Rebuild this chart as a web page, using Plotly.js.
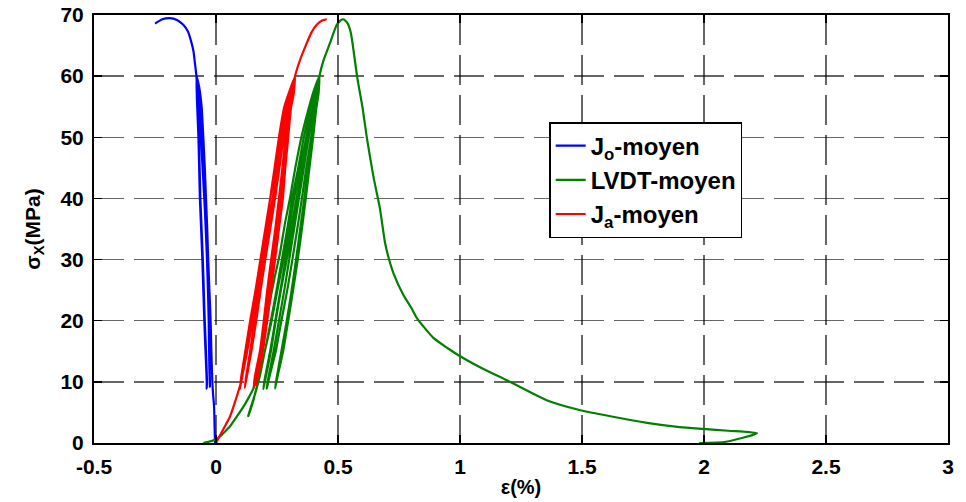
<!DOCTYPE html>
<html>
<head>
<meta charset="utf-8">
<script src="https://cdn.plot.ly/plotly-3.0.1.min.js"></script>
<style>
  html, body { margin: 0; padding: 0; background: #fff; }
  #chart { width: 966px; height: 502px; }
</style>
</head>
<body>
<div id="chart"></div>
<script>
// ---- data (strain in %, stress in MPa) ----
const xTickVals = [-0.5, 0, 0.5, 1, 1.5, 2, 2.5, 3];
const xTickText = ["-0.5", "0", "0.5", "1", "1.5", "2", "2.5", "3"];
const yTickVals = [0, 10, 20, 30, 40, 50, 60, 70];
const seriesNames = ["J<sub>o</sub>-moyen", "LVDT-moyen", "J<sub>a</sub>-moyen"];

// J_o-moyen (blue): loading, two unload/reload cycles, final loading to peak
const joX = [-0.004, -0.006, -0.008, -0.012, -0.015, -0.019, -0.022, -0.027, -0.032, -0.036, -0.041, -0.046, -0.052, -0.059, -0.068, -0.080,
  -0.077, -0.072, -0.069, -0.066, -0.061, -0.056, -0.052, -0.048, -0.043, -0.038, -0.038,
  -0.037, -0.041, -0.046, -0.050, -0.054, -0.059, -0.064, -0.067, -0.070, -0.075, -0.080,
  -0.072, -0.062, -0.055, -0.048, -0.042, -0.037, -0.033, -0.030, -0.027, -0.025, -0.025,
  -0.027, -0.030, -0.035, -0.044, -0.055, -0.070, -0.080,
  -0.086, -0.092, -0.100, -0.115, -0.134, -0.160, -0.189, -0.220, -0.250];
const joY = [0, 3, 6, 8, 10, 15, 20, 25, 30, 35, 40, 45, 50, 55, 58, 60,
  55, 50, 45, 40, 35, 30, 25, 20, 15, 10, 8.9,
  10, 15, 20, 25, 30, 35, 40, 45, 50, 55, 60,
  55, 50, 45, 40, 35, 30, 25, 20, 15, 10, 9.2,
  12, 20, 30, 40, 50, 57, 60,
  62, 64, 65.4, 67.3, 68.4, 69.2, 69.5, 69.3, 68.6];

// LVDT-moyen (green): loading, four unload/reload cycles, peak and post-peak
const lvdtX = [-0.052, -0.020, 0.000, 0.020, 0.040, 0.057, 0.085, 0.112, 0.135, 0.153, 0.165, 0.180, 0.200, 0.220, 0.240, 0.262, 0.283, 0.303, 0.325, 0.350, 0.375, 0.400, 0.424,
  0.410, 0.395, 0.370, 0.345, 0.320, 0.298, 0.276, 0.252, 0.228, 0.200, 0.172, 0.150, 0.132,
  0.140, 0.160, 0.180, 0.200, 0.225, 0.248, 0.270, 0.292, 0.312, 0.337, 0.360, 0.390, 0.424,
  0.415, 0.402, 0.380, 0.357, 0.336, 0.314, 0.290, 0.266, 0.245, 0.225, 0.205, 0.194,
  0.200, 0.222, 0.243, 0.264, 0.285, 0.307, 0.330, 0.352, 0.372, 0.397, 0.424,
  0.418, 0.408, 0.390, 0.370, 0.352, 0.333, 0.313, 0.292, 0.268, 0.245, 0.220, 0.208,
  0.214, 0.236, 0.258, 0.280, 0.300, 0.320, 0.340, 0.360, 0.380, 0.402, 0.424,
  0.420, 0.412, 0.398, 0.383, 0.368, 0.352, 0.335, 0.316, 0.296, 0.275, 0.253, 0.242,
  0.248, 0.268, 0.290, 0.310, 0.328, 0.345, 0.362, 0.378, 0.393, 0.410, 0.424,
  0.440, 0.467, 0.495, 0.510, 0.522, 0.540, 0.553, 0.566, 0.580, 0.600, 0.618, 0.645, 0.672, 0.693, 0.706, 0.727, 0.768, 0.802, 0.824, 0.891, 0.950, 0.992, 1.082, 1.205, 1.355, 1.490, 1.627, 1.766, 1.900, 1.996, 2.100, 2.217, 2.090, 1.980];
const lvdtY = [0, 0.3, 0.6, 1.2, 2, 2.7, 4.3, 5.9, 7.5, 8.9, 11, 14, 18.5, 23, 27, 31, 36, 40, 45, 50, 54, 57.5, 60,
  57, 55, 50, 45, 40, 35, 30, 25, 20, 15, 10, 6.5, 4.4,
  5.5, 8, 11, 15, 20, 25, 30, 35, 40, 45, 50, 55, 60,
  57, 55, 50, 45, 40, 35, 30, 25, 20, 15, 11, 8.8,
  10.5, 15, 20, 25, 30, 35, 40, 45, 50, 55, 60,
  57, 55, 50, 45, 40, 35, 30, 25, 20, 15, 11, 8.9,
  10.5, 15, 20, 25, 30, 35, 40, 45, 50, 55, 60,
  57, 55, 50, 45, 40, 35, 30, 25, 20, 15, 11, 8.9,
  10.5, 15, 20, 25, 30, 35, 40, 45, 50, 55, 60,
  62.5, 65.4, 68.4, 69.1, 69.3, 68.6, 67, 63.5, 59.5, 55, 50, 43.6, 38.3, 32.7, 30.5, 27.8, 24.2, 22, 20.4, 17.2, 15.5, 14.4, 12.4, 10, 7, 5.4, 4.3, 3.3, 2.6, 2.3, 2.0, 1.6, 0.2, 0];

// J_a-moyen (red): loading, four unload/reload cycles, final loading
const jaX = [0.000, 0.020, 0.040, 0.057, 0.072, 0.085, 0.105, 0.126, 0.146, 0.167, 0.185, 0.205, 0.222, 0.240, 0.258, 0.280, 0.324,
  0.305, 0.290, 0.270, 0.250, 0.232, 0.212, 0.192, 0.172, 0.150, 0.128, 0.108, 0.098,
  0.104, 0.120, 0.140, 0.162, 0.182, 0.202, 0.222, 0.243, 0.262, 0.285, 0.324,
  0.310, 0.295, 0.277, 0.260, 0.242, 0.222, 0.202, 0.183, 0.165, 0.145, 0.127, 0.118,
  0.124, 0.140, 0.158, 0.178, 0.196, 0.216, 0.235, 0.253, 0.270, 0.290, 0.324,
  0.315, 0.305, 0.292, 0.280, 0.268, 0.250, 0.236, 0.220, 0.204, 0.187, 0.165, 0.155,
  0.160, 0.180, 0.196, 0.210, 0.226, 0.243, 0.258, 0.272, 0.285, 0.300, 0.324,
  0.318, 0.308, 0.296, 0.284, 0.274, 0.258, 0.242, 0.226, 0.210, 0.192, 0.172, 0.163,
  0.168, 0.186, 0.202, 0.218, 0.234, 0.250, 0.265, 0.278, 0.290, 0.304, 0.324,
  0.344, 0.372, 0.392, 0.413, 0.435, 0.454];
const jaY = [0, 1.5, 3, 4.3, 6, 7.6, 10.3, 15.2, 20.1, 25, 30, 35, 40, 45, 50, 55, 60,
  57, 55, 50, 45, 40, 35, 30, 25, 20, 15, 11, 8.8,
  11, 15, 20, 25, 30, 35, 40, 45, 50, 55, 60,
  57, 55, 50, 45, 40, 35, 30, 25, 20, 15, 11, 9,
  11, 15, 20, 25, 30, 35, 40, 45, 50, 55, 60,
  57, 55, 50, 45, 40, 35, 30, 25, 20, 15, 11, 9,
  11, 15, 20, 25, 30, 35, 40, 45, 50, 55, 60,
  57, 55, 50, 45, 40, 35, 30, 25, 20, 15, 11, 9.5,
  11, 15, 20, 25, 30, 35, 40, 45, 50, 55, 60,
  62.6, 65.4, 67.2, 68.4, 69.1, 69.3];

const seriesColors = ["#0000ff", "#008000", "#ff0000"];

const FONT = "Liberation Sans, Arial, Helvetica, sans-serif";

const traces = [
  {x: joX, y: joY, name: seriesNames[0], type: "scatter", mode: "lines",
   line: {color: seriesColors[0], width: 2.2, shape: "spline", smoothing: 0.6}},
  {x: lvdtX, y: lvdtY, name: seriesNames[1], type: "scatter", mode: "lines",
   line: {color: seriesColors[1], width: 2.2, shape: "spline", smoothing: 0.6}},
  {x: jaX, y: jaY, name: seriesNames[2], type: "scatter", mode: "lines",
   line: {color: seriesColors[2], width: 2.2, shape: "spline", smoothing: 0.6}}
];

const gridCommon = {
  showgrid: true, gridcolor: "rgba(0,0,0,0.6)", gridwidth: 1.5, griddash: "30px,10px",
  zeroline: false, showline: true, linecolor: "#000", linewidth: 2, mirror: "ticks",
  ticks: "inside", ticklen: 8, tickwidth: 1.5, tickcolor: "#000",
  tickfont: {family: FONT, size: 21, color: "#000", weight: "bold"}
};

const layout = {
  width: 966, height: 502,
  margin: {l: 94, r: 18, t: 15, b: 59},
  paper_bgcolor: "#fff", plot_bgcolor: "#fff",
  showlegend: true,
  xaxis: Object.assign({}, gridCommon, {
    range: [-0.5, 3], tickvals: xTickVals, ticktext: xTickText,
    ticklabelstandoff: 4,
    title: {text: "ε(%)", font: {family: FONT, size: 20, color: "#000", weight: "bold"}, standoff: 3}
  }),
  yaxis: Object.assign({}, gridCommon, {
    range: [0, 70], tickvals: yTickVals,
    ticklabelstandoff: 4,
    title: {text: "σ<sub>X</sub>(MPa)", font: {family: FONT, size: 21, color: "#000", weight: "bold"}, standoff: 14}
  }),
  legend: {
    x: 0.533, y: 0.75, xanchor: "left", yanchor: "top",
    bgcolor: "#fff", bordercolor: "#000", borderwidth: 1.5,
    font: {family: FONT, size: 24, color: "#000", weight: "bold"},
    itemwidth: 30, tracegroupgap: 0
  }
};

Plotly.newPlot("chart", traces, layout, {displayModeBar: false, staticPlot: true});
</script>
</body>
</html>
